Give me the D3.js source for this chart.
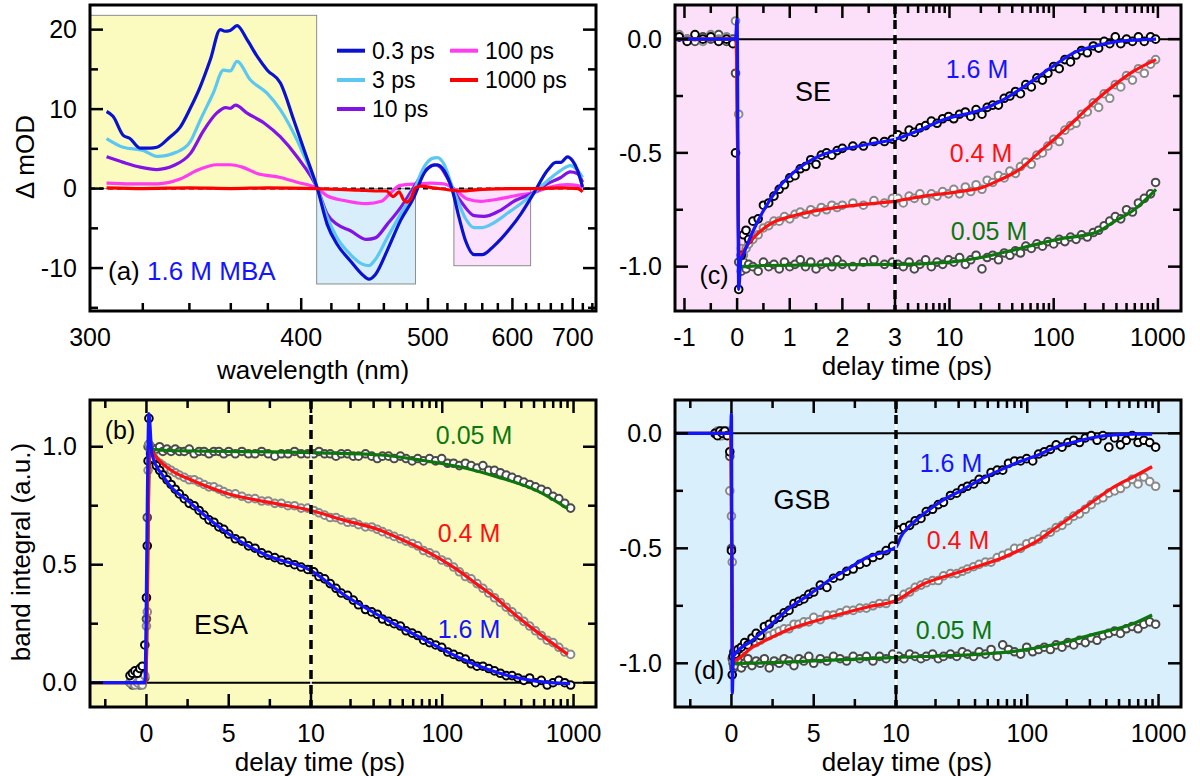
<!DOCTYPE html>
<html lang="en">
<head>
<meta charset="UTF-8">
<title>transient absorption</title>
<style>
  body { margin: 0; background: #fff; }
  svg text { font-family: "Liberation Sans", Arial, Helvetica, sans-serif; fill: #000; }
</style>
</head>
<body>
<svg width="1200" height="776"></svg>
<script src="https://cdnjs.cloudflare.com/ajax/libs/d3/7.8.5/d3.min.js"></script>
<script>
// ---------------- panel (a): spectra, [wavelength nm, dOD mOD] ----------------
var specNames = ["0.3 ps", "3 ps", "10 ps", "100 ps", "1000 ps"];
var spec03 = [[306,9.7],[308.4,9.1],[312.3,6.7],[314.9,6.3],[318.9,5.1],[323,5.1],[325.8,5.2],[331.4,6.5],[335.8,7.7],[340.4,10.1],[345,12.8],[349.8,16.2],[354.7,20],[357,19.8],[359.7,19.9],[363.2,20.5],[368.6,18.7],[374.1,16.6],[379.7,14.9],[387.3,13.3],[395.4,8.6],[403,4.2],[410.5,0],[417.1,-4.5],[424,-7],[433.7,-9.1],[442.6,-10.8],[447.8,-11.4],[453.1,-10.8],[462.8,-7.8],[474.4,-4],[486.5,-1.1],[496.1,1.9],[504.4,2.9],[509.5,3],[516.3,2.3],[525.3,-0.2],[532.6,-3.6],[540.2,-6.6],[550,-8.3],[560.2,-8.3],[575,-7.2],[597.6,-4.9],[612.1,-3.2],[632.5,-0.5],[654.4,2.3],[668.8,3.3],[677.7,3.3],[690.1,4],[699.6,3.5],[709.4,2.3],[719.5,0.2]];
var spec3 = [[306,6.3],[312.3,5.2],[320.2,4.8],[325.8,4.05],[334.4,4.6],[340.4,5.9],[345,8.6],[351.2,12],[356.3,14.9],[359.7,14.8],[363.2,16],[370.2,13.7],[379.5,12],[387.3,9.9],[397.4,6.1],[410.5,0],[417.1,-3.6],[424,-6.2],[433.7,-8.3],[442.6,-9.5],[447.8,-9.7],[453.1,-8.9],[462.8,-6.2],[474.4,-3.2],[486.5,-0.25],[496.1,2.7],[504.4,3.8],[509.5,3.9],[516.3,3.1],[525.3,0.2],[532.6,-1.9],[540.2,-3.8],[550,-4.9],[560.2,-4.9],[575,-4.3],[597.6,-2.8],[612.1,-1.9],[632.5,-0.5],[654.4,1],[677.7,2.3],[695,2.9],[709.4,2.3],[719.5,1.4]];
var spec10 = [[306,4],[312.3,3.3],[318.9,2.7],[325.8,2.4],[333,2.9],[340.4,4.4],[346.6,7.3],[352.9,9.5],[357.5,10.2],[359.7,10.1],[362.4,10.5],[368.5,9.5],[378.2,8.2],[387.3,6.5],[397.4,4],[410.5,0],[417.1,-3.2],[424,-4.5],[433.7,-5.3],[446,-6.4],[453,-6.2],[462.8,-4.5],[474.4,-2.4],[486.5,0.2],[496.1,2.1],[506.5,3],[512.4,2.7],[519.6,1.4],[527,-0.25],[538.6,-2.2],[550,-3.4],[562,-3.5],[582,-2.8],[604,-1.5],[632.5,-0.5],[654,0.6],[677.7,1.4],[695,2.1],[709,1.9],[719.5,0.8]];
var spec100 = [[306,0.7],[315,0.6],[326,0.6],[335.8,1.2],[343.6,2.3],[352.9,3],[359.7,3],[366,2.7],[374,1.9],[387.3,1.4],[397.4,0.8],[410.5,0],[417,-0.9],[429,-1.5],[446,-1.9],[458,-1.6],[466,-0.5],[474,0.4],[490,0.6],[502.7,0.7],[516,0.6],[527,0],[542,-1.3],[558,-1.6],[582,-1.3],[604,-0.9],[632,-0.5],[659,0.2],[690,0.5],[709,0.4],[719.5,0]];
var spec1000 = [[306,0.1],[320,0],[340,0.1],[360,0],[380,0.1],[410,0],[440,-0.2],[455,-0.3],[462,-0.3],[468,-1.0],[473,-0.4],[477,-1.4],[480,-1.7],[484,-1.2],[488,0.1],[493,0.3],[505,0.1],[525,-0.2],[535,-0.3],[560,-0.1],[600,0],[640,0],[680,0.1],[710,0],[719.5,-0.4]];
var specSeries = [spec03, spec3, spec10, spec100, spec1000];
// integration windows: [from nm, to nm, low, high]
var bands = [[300,410,0,21.8],[410,488,-12,0],[527,627,-9.7,0]];

// ---------------- panel (c): SE kinetics ----------------
var tC = [-1.1,-0.95,-0.8,-0.65,-0.5,-0.35,-0.2,-0.08,
  -0.03,0.03,0.08,
  0.12,0.17,0.22,0.3,0.4,0.5,0.6,0.7,0.8,0.9,1.0,1.1,1.2,1.3,1.4,1.5,1.6,1.7,1.8,1.9,2.0,2.2,2.4,2.6,2.8,2.95,
  3.2,3.6,4.1,4.6,5.2,5.9,6.7,7.6,8.6,9.8,11,12.5,14.2,16,18,20.5,23,26,29.5,33.5,38,43,48,54,61,69,78,88,100,113,128,145,164,185,210,240,270,305,345,390,440,500,570,650,740,850,950];
var c16 = [0.01,-0.01,0.02,0.0,0.01,-0.01,0.0,-0.02,
  -0.5,-1.1,-0.95,
  -0.86,-0.84,-0.88,-0.8,-0.79,-0.73,-0.72,-0.69,-0.66,-0.64,-0.61,-0.6,-0.57,-0.56,-0.53,-0.55,-0.51,-0.5,-0.51,-0.49,-0.48,-0.47,-0.47,-0.45,-0.45,-0.44,
  -0.42,-0.43,-0.4,-0.41,-0.39,-0.38,-0.36,-0.37,-0.35,-0.34,-0.35,-0.33,-0.32,-0.34,-0.31,-0.33,-0.3,-0.29,-0.29,-0.26,-0.25,-0.23,-0.24,-0.2,-0.21,-0.17,-0.18,-0.15,-0.12,-0.13,-0.09,-0.1,-0.07,-0.05,-0.06,-0.03,-0.04,-0.01,-0.02,0.01,-0.02,0.0,-0.01,0.01,-0.01,0.01,0.0];
var c04 = [0.02,0.0,0.01,-0.01,0.02,0.0,0.01,-0.01,
  0.08,-0.33,-0.92,
  -0.95,-0.92,-0.9,-0.88,-0.86,-0.83,-0.82,-0.8,-0.8,-0.78,-0.79,-0.77,-0.76,-0.77,-0.75,-0.76,-0.74,-0.75,-0.73,-0.74,-0.73,-0.72,-0.73,-0.71,-0.72,-0.7,
  -0.7,-0.72,-0.69,-0.7,-0.68,-0.71,-0.68,-0.69,-0.67,-0.68,-0.66,-0.68,-0.65,-0.67,-0.64,-0.66,-0.62,-0.63,-0.6,-0.61,-0.58,-0.59,-0.56,-0.54,-0.55,-0.51,-0.5,-0.47,-0.44,-0.45,-0.4,-0.38,-0.37,-0.33,-0.32,-0.28,-0.3,-0.24,-0.26,-0.2,-0.21,-0.16,-0.18,-0.13,-0.15,-0.11,-0.09];
var c005 = [0.01,0.0,-0.01,0.01,0.0,0.02,-0.01,0.0,
  -0.15,-0.98,-1.02,
  -0.98,-1.01,-0.99,-1.0,-1.02,-0.98,-1.0,-0.99,-1.01,-0.98,-1.0,-0.99,-0.97,-1.0,-0.98,-1.01,-0.99,-0.98,-1.0,-0.97,-0.99,-1.0,-0.98,-0.97,-0.99,-0.98,
  -0.99,-1.0,-0.98,-1.01,-0.99,-0.97,-1.0,-0.98,-0.99,-0.97,-0.98,-0.96,-0.99,-0.97,-0.95,-1.01,-0.96,-0.95,-0.97,-0.94,-0.95,-0.93,-0.94,-0.91,-0.92,-0.9,-0.91,-0.89,-0.9,-0.88,-0.89,-0.87,-0.88,-0.86,-0.87,-0.85,-0.84,-0.82,-0.8,-0.78,-0.79,-0.75,-0.76,-0.72,-0.7,-0.68,-0.63];
var fitC16 = [[-1.2,0],[-0.03,0],[0.0,0.09],[0.03,-1.1],[0.07,-0.97],[0.11,-0.95],[0.29,-0.85],[0.51,-0.75],[0.8,-0.65],[1.16,-0.57],[1.6,-0.51],[2.1,-0.48],[2.54,-0.46],[3,-0.44],[4.85,-0.405],[8.74,-0.354],[20.3,-0.31],[30.9,-0.273],[47,-0.222],[71.5,-0.164],[109,-0.105],[166,-0.054],[253,-0.03],[387,-0.012],[588,-0.004],[960,0]];
var fitC04 = [[-1.2,0],[-0.02,0],[0.04,-0.97],[0.1,-0.94],[0.29,-0.88],[0.65,-0.81],[1.02,-0.78],[1.45,-0.756],[2.1,-0.734],[3,-0.712],[5.7,-0.69],[13.3,-0.668],[20.3,-0.653],[30.9,-0.617],[47,-0.573],[71.5,-0.5],[107,-0.43],[166,-0.35],[253,-0.27],[387,-0.2],[590,-0.14],[960,-0.09]];
var fitC005 = [[-1.2,0],[-0.02,0],[0.04,-1.0],[0.5,-0.995],[3,-0.99],[10,-0.98],[20,-0.96],[47,-0.92],[109,-0.88],[253,-0.85],[387,-0.8],[590,-0.75],[960,-0.66]];

// ---------------- panels (b) ESA and (d) GSB ----------------
var tBD = [-1.0,-0.85,-0.7,-0.55,-0.4,-0.25,
  -0.1,0.0,0.05,0.1,0.15,
  0.25,0.4,0.6,0.8,1.0,1.25,1.5,1.75,2.0,2.3,2.6,2.9,3.2,3.5,3.8,4.1,4.4,4.7,5.0,5.4,5.8,6.2,6.6,7.0,7.4,7.8,8.2,8.6,9.0,9.4,9.8,
  10.5,11.5,12.7,14,15.5,17,19,21,23,26,29,32,35,39,43,48,53,59,65,72,80,89,99,110,122,135,150,166,184,204,226,250,277,307,340,377,418,463,513,568,630,698,773,857,950];
var b16 = [0.03,0.04,0.05,0.04,0.06,0.07,
  0.16,0.36,0.58,0.94,1.12,
  0.97,0.95,0.92,0.9,0.88,0.86,0.84,0.82,0.8,0.78,0.76,0.75,0.73,0.71,0.69,0.68,0.66,0.65,0.63,0.61,0.6,0.58,0.57,0.55,0.54,0.53,0.52,0.51,0.5,0.49,0.48,
  0.47,0.45,0.44,0.42,0.4,0.38,0.37,0.35,0.33,0.31,0.3,0.29,0.27,0.26,0.25,0.24,0.22,0.21,0.2,0.18,0.17,0.16,0.15,0.13,0.12,0.11,0.1,0.08,0.07,0.07,0.06,0.05,0.04,0.03,0.03,0.02,0.01,0.02,0.0,0.01,-0.01,0.0,0.01,0.0,-0.01];
var b04 = [0.0,0.01,-0.01,0.0,0.01,-0.01,
  0.03,0.24,0.3,0.9,1.01,
  0.98,0.96,0.94,0.93,0.92,0.91,0.9,0.89,0.88,0.87,0.86,0.86,0.85,0.84,0.83,0.83,0.82,0.81,0.8,0.8,0.79,0.78,0.78,0.77,0.77,0.76,0.76,0.75,0.75,0.74,0.74,
  0.73,0.72,0.71,0.7,0.7,0.69,0.68,0.68,0.67,0.66,0.66,0.65,0.64,0.63,0.62,0.61,0.6,0.59,0.58,0.56,0.55,0.54,0.52,0.51,0.49,0.47,0.45,0.44,0.42,0.4,0.38,0.36,0.34,0.32,0.3,0.28,0.26,0.24,0.22,0.2,0.18,0.17,0.15,0.13,0.12];
var b005 = [0.0,-0.01,0.01,0.0,-0.01,0.0,
  0.02,0.27,0.7,1.0,1.01,
  1.0,0.99,0.99,1.0,0.98,0.99,0.98,0.99,0.98,0.98,0.99,0.97,0.98,0.98,0.97,0.98,0.98,0.97,0.98,0.97,0.98,0.97,0.97,0.98,0.97,0.96,0.97,0.97,0.98,0.97,0.97,
  0.97,0.98,0.97,0.97,0.96,0.97,0.97,0.96,0.96,0.97,0.96,0.95,0.96,0.96,0.95,0.96,0.95,0.94,0.95,0.94,0.95,0.94,0.95,0.93,0.93,0.92,0.93,0.92,0.91,0.92,0.9,0.9,0.89,0.88,0.87,0.86,0.85,0.84,0.83,0.82,0.81,0.79,0.78,0.76,0.74];
var fitB16 = [[-3.43,0],[-0.1,0],[0.15,1.14],[0.33,0.97],[1.06,0.87],[2.7,0.76],[5,0.63],[7.3,0.54],[10,0.475],[17.5,0.376],[34.9,0.277],[68.7,0.19],[135,0.106],[263,0.043],[516,0.007],[942,-0.004]];
var fitB04 = [[-3.43,0],[-0.05,0],[0.2,1.0],[0.4,0.975],[1.5,0.9],[2.7,0.86],[5,0.8],[7.3,0.766],[10,0.73],[17.5,0.69],[34.1,0.645],[47.6,0.61],[92.8,0.53],[129,0.48],[181,0.42],[254,0.36],[355,0.29],[494,0.227],[903,0.12]];
var fitB005 = [[-3.43,0],[-0.05,0],[0.2,0.99],[1,0.985],[10,0.975],[34,0.965],[69,0.943],[135,0.915],[263,0.872],[516,0.816],[903,0.738]];

var d16 = [0.0,-0.01,0.01,0.0,0.01,-0.01,
  -0.08,-0.51,-1.05,-0.97,-0.95,
  -0.96,-0.94,-0.93,-0.91,-0.92,-0.89,-0.87,-0.88,-0.84,-0.83,-0.81,-0.8,-0.78,-0.77,-0.74,-0.73,-0.72,-0.7,-0.69,-0.66,-0.67,-0.63,-0.62,-0.6,-0.59,-0.57,-0.56,-0.54,-0.53,-0.51,-0.49,
  -0.42,-0.41,-0.4,-0.38,-0.37,-0.34,-0.33,-0.31,-0.3,-0.27,-0.26,-0.24,-0.23,-0.22,-0.2,-0.2,-0.17,-0.16,-0.16,-0.13,-0.12,-0.12,-0.11,-0.12,-0.09,-0.08,-0.07,-0.05,-0.06,-0.04,-0.03,-0.04,-0.02,-0.01,-0.03,-0.01,-0.06,-0.02,-0.05,-0.03,-0.01,-0.04,-0.03,-0.04,-0.06];
var d04 = [0.0,0.01,0.0,-0.01,0.0,0.01,
  -0.25,-0.36,-0.56,-0.97,-0.99,
  -0.97,-0.96,-0.95,-0.94,-0.92,-0.91,-0.91,-0.9,-0.88,-0.88,-0.87,-0.86,-0.85,-0.85,-0.83,-0.83,-0.82,-0.82,-0.8,-0.81,-0.79,-0.79,-0.78,-0.77,-0.77,-0.76,-0.76,-0.75,-0.74,-0.74,-0.72,
  -0.72,-0.7,-0.69,-0.67,-0.66,-0.65,-0.64,-0.64,-0.62,-0.61,-0.61,-0.6,-0.59,-0.58,-0.57,-0.56,-0.56,-0.54,-0.53,-0.52,-0.5,-0.5,-0.48,-0.47,-0.46,-0.44,-0.43,-0.41,-0.4,-0.38,-0.36,-0.35,-0.33,-0.31,-0.29,-0.28,-0.26,-0.25,-0.24,-0.22,-0.2,-0.22,-0.19,-0.21,-0.23];
var d005 = [0.0,0.0,-0.01,0.01,0.0,0.0,
  -0.1,-0.5,-0.98,-1.0,-1.02,
  -1.01,-0.99,-1.02,-1.0,-0.98,-1.01,-0.99,-1.0,-0.98,-1.02,-0.99,-1.0,-0.98,-0.99,-1.01,-0.98,-0.99,-0.97,-1.0,-0.98,-0.99,-0.97,-0.98,-0.99,-0.97,-0.98,-0.97,-0.99,-0.97,-0.98,-0.96,
  -0.97,-0.98,-0.96,-0.97,-0.98,-0.97,-0.96,-0.98,-0.97,-0.96,-0.97,-0.95,-0.96,-0.97,-0.95,-0.96,-0.94,-0.97,-0.92,-0.94,-0.95,-0.96,-0.93,-0.95,-0.94,-0.93,-0.94,-0.92,-0.93,-0.91,-0.92,-0.9,-0.91,-0.89,-0.9,-0.88,-0.87,-0.86,-0.87,-0.85,-0.84,-0.85,-0.83,-0.82,-0.83];
var fitD16 = [[-3.43,0],[-0.05,0],[0.0,0.087],[0.05,-1.13],[0.12,-0.97],[1.28,-0.9],[2.43,-0.83],[3.59,-0.756],[4.75,-0.7],[5.9,-0.64],[7.06,-0.59],[8.22,-0.54],[10,-0.494],[10.9,-0.45],[14.2,-0.378],[16.3,-0.35],[22.8,-0.29],[31.8,-0.247],[44.3,-0.2],[62,-0.16],[86.5,-0.124],[121,-0.094],[168,-0.058],[235,-0.036],[328,-0.017],[458,-0.007],[640,-0.003],[893,-0.003]];
var fitD04 = [[-3.43,0],[-0.05,0],[0.08,-0.99],[1.28,-0.93],[2.43,-0.887],[3.59,-0.85],[5.9,-0.8],[8.22,-0.756],[10,-0.727],[16.3,-0.654],[22.8,-0.625],[44.3,-0.574],[62,-0.545],[86.5,-0.509],[121,-0.465],[168,-0.407],[235,-0.349],[328,-0.29],[458,-0.233],[640,-0.19],[893,-0.145]];
var fitD005 = [[-3.43,0],[-0.05,0],[0.08,-1.0],[10,-0.974],[44.3,-0.96],[86.5,-0.945],[168,-0.916],[328,-0.872],[640,-0.828],[893,-0.79]];

var concNames = ["1.6 M", "0.4 M", "0.05 M"];

// ---------------- drawing ----------------
var svg = d3.select("svg");
var BLUE = "#1414ff", RED = "#ff1010", GREEN = "#0e760e";
var TICK_FS = 25, TITLE_FS = 26, NOTE_FS = 25;

function yTicks(g, f, ys, step, majorEvery) {
  var lo = Math.ceil(ys.domain()[0] / step) * step;
  var vals = d3.range(lo, ys.domain()[1] + 1e-9, step);
  vals.forEach(function(v) {
    var major = Math.abs(v / majorEvery - Math.round(v / majorEvery)) < 1e-6;
    var len = major ? 13 : 8;
    var y = ys(v);
    g.append("line").attr("x1", f.x0).attr("x2", f.x0 + len).attr("y1", y).attr("y2", y);
    g.append("line").attr("x1", f.x1).attr("x2", f.x1 - len).attr("y1", y).attr("y2", y);
  });
}

function frameBox(g, f) {
  g.append("rect").attr("x", f.x0).attr("y", f.y0)
    .attr("width", f.x1 - f.x0).attr("height", f.y1 - f.y0)
    .attr("fill", "none").attr("stroke", "#000").attr("stroke-width", 3);
}

function label(g, txt, x, y, size, color, anchor) {
  return g.append("text").attr("x", x).attr("y", y).attr("dy", "0.35em")
    .attr("text-anchor", anchor || "middle")
    .style("font-size", size + "px").style("fill", color || "#000")
    .text(txt);
}

// ---- panel (a) ----
(function() {
  var f = {x0: 90, x1: 596, y0: 5, y1: 311};
  var inv = d3.scaleLinear().domain([1/300, 1/748]).range([f.x0, f.x1]);
  var x = function(l) { return inv(1 / l); };
  var y = d3.scaleLinear().domain([-15.4, 23.1]).range([f.y1, f.y0]);
  var g = svg.append("g");
  svg.append("clipPath").attr("id", "clipA").append("rect")
    .attr("x", f.x0).attr("y", f.y0).attr("width", f.x1 - f.x0).attr("height", f.y1 - f.y0);
  var inner = g.append("g").attr("clip-path", "url(#clipA)");
  var fills = ["#fbfbc0", "#d8effb", "#fbe1fb"];
  bands.forEach(function(b, i) {
    inner.append("rect").attr("x", x(b[0])).attr("y", y(b[3]))
      .attr("width", x(b[1]) - x(b[0])).attr("height", y(b[2]) - y(b[3]))
      .attr("fill", fills[i]).attr("stroke", "#8c8c8c").attr("stroke-width", 1);
  });
  inner.append("line").attr("x1", f.x0).attr("x2", f.x1).attr("y1", y(0)).attr("y2", y(0))
    .attr("stroke", "#000").attr("stroke-width", 2).attr("stroke-dasharray", "5,4");
  var colors = ["#0a12d2", "#5cc8f2", "#8212e6", "#ff3cf0", "#ff0000"];
  var line = d3.line().x(function(d) { return x(d[0]); }).y(function(d) { return y(d[1]); })
    .curve(d3.curveMonotoneX);
  [3, 2, 1, 0, 4].forEach(function(i) {
    inner.append("path").attr("d", line(specSeries[i])).attr("fill", "none")
      .attr("stroke", colors[i]).attr("stroke-width", 3.2).attr("stroke-linejoin", "round");
  });
  frameBox(g, f);
  var tk = g.append("g").attr("stroke", "#000").attr("stroke-width", 2.5);
  yTicks(tk, f, y, 5, 10);
  d3.range(320, 741, 20).forEach(function(l) {
    var len = l % 100 === 0 ? 13 : 8;
    tk.append("line").attr("x1", x(l)).attr("x2", x(l)).attr("y1", f.y1).attr("y2", f.y1 - len);
  });
  [300, 400, 500, 600, 700].forEach(function(l) { label(g, l, x(l), 337, TICK_FS); });
  [20, 10, 0, -10].forEach(function(v) { label(g, v, f.x0 - 13, y(v), TICK_FS, "#000", "end"); });
  label(g, "wavelength (nm)", 313, 370, TITLE_FS);
  label(g, "\u0394 mOD", 0, 0, TITLE_FS).attr("transform", "translate(25,157) rotate(-90)");
  // legend
  var rows = [50.7, 80, 109];
  specNames.forEach(function(n, i) {
    var col = i < 3 ? 0 : 1, r = i < 3 ? i : i - 3;
    var lx = col === 0 ? 337 : 450;
    g.append("line").attr("x1", lx).attr("x2", lx + 28).attr("y1", rows[r]).attr("y2", rows[r])
      .attr("stroke", colors[i]).attr("stroke-width", 4);
    label(g, n, lx + 35, rows[r], 23, "#000", "start");
  });
  var t = g.append("text").attr("x", 108).attr("y", 271).attr("dy", "0.35em").style("font-size", "26px");
  t.append("tspan").text("(a) ");
  t.append("tspan").style("fill", BLUE).text("1.6 M MBA");
})();

// ---- kinetics panels ----
function timePanel(cfg) {
  var f = cfg.frame;
  var x = function(t) { return t <= cfg.brk ? cfg.lin(t) : cfg.log(t); };
  var y = cfg.y;
  var g = svg.append("g");
  svg.append("clipPath").attr("id", "clip" + cfg.id).append("rect")
    .attr("x", f.x0).attr("y", f.y0).attr("width", f.x1 - f.x0).attr("height", f.y1 - f.y0);
  g.append("rect").attr("x", f.x0).attr("y", f.y0).attr("width", f.x1 - f.x0)
    .attr("height", f.y1 - f.y0).attr("fill", cfg.bg);
  var inner = g.append("g").attr("clip-path", "url(#clip" + cfg.id + ")");
  inner.append("line").attr("x1", f.x0).attr("x2", f.x1).attr("y1", y(0)).attr("y2", y(0))
    .attr("stroke", "#000").attr("stroke-width", 2);
  // data circles, lowest concentration first
  cfg.series.slice().reverse().forEach(function(s) {
    inner.append("g").selectAll("circle")
      .data(cfg.t.map(function(t, i) { return [t, s.v[i]]; }))
      .enter().append("circle")
      .attr("cx", function(d) { return x(d[0]); })
      .attr("cy", function(d) { return y(d[1]); })
      .attr("r", 3.8).attr("fill", "#fff")
      .attr("stroke", s.dot).attr("stroke-width", 2);
  });
  var line = d3.line().x(function(d) { return x(d[0]); }).y(function(d) { return y(d[1]); })
    .curve(d3.curveMonotoneX);
  cfg.series.slice().reverse().forEach(function(s) {
    inner.append("path").attr("d", line(s.fit)).attr("fill", "none")
      .attr("stroke", s.color).attr("stroke-width", 3.2).attr("stroke-linejoin", "round");
  });
  // axis break
  inner.append("line").attr("x1", x(cfg.brk)).attr("x2", x(cfg.brk)).attr("y1", f.y0).attr("y2", f.y1)
    .attr("stroke", "#fff").attr("stroke-width", 1.5);
  inner.append("line").attr("x1", x(cfg.brk)).attr("x2", x(cfg.brk)).attr("y1", f.y0).attr("y2", f.y1)
    .attr("stroke", "#000").attr("stroke-width", 3.5).attr("stroke-dasharray", "9,6");
  frameBox(g, f);
  var tk = g.append("g").attr("stroke", "#000").attr("stroke-width", 2.5);
  yTicks(tk, f, y, 0.25, 0.5);
  var xt = [];
  cfg.linTicks.forEach(function(v) { xt.push([v, Math.abs(v / cfg.linMajor - Math.round(v / cfg.linMajor)) < 1e-6]); });
  [1, 10, 100].forEach(function(dec) {
    d3.range(1, 10).forEach(function(k) {
      var v = k * dec;
      if (v > cfg.brk && v < 1000) xt.push([v, k === 1]);
    });
  });
  xt.push([1000, true]);
  xt.forEach(function(d) {
    var px = x(d[0]), len = d[1] ? 13 : 8;
    tk.append("line").attr("x1", px).attr("x2", px).attr("y1", f.y1).attr("y2", f.y1 - len);
    tk.append("line").attr("x1", px).attr("x2", px).attr("y1", f.y0).attr("y2", f.y0 + len);
  });
  cfg.xLabels.forEach(function(v) { label(g, v, x(v), f.y1 + 26, TICK_FS); });
  cfg.yLabels.forEach(function(v) { label(g, v.toFixed(1), f.x0 - 13, y(v), TICK_FS, "#000", "end"); });
  label(g, "delay time (ps)", cfg.titleX, f.y1 + 55, TITLE_FS);
  cfg.notes.forEach(function(n) { label(g, n[0], n[1], n[2], n[4] || NOTE_FS, n[3]); });
  return g;
}

var grayDots = ["#000", "#8a8a8a", "#4a4a4a"];

timePanel({
  id: "C", bg: "#fce0fa", frame: {x0: 675, x1: 1181, y0: 5, y1: 311}, brk: 3,
  lin: d3.scaleLinear().domain([-1.18, 3]).range([675, 895]),
  log: d3.scaleLog().domain([3, 1666]).range([895, 1181]),
  y: d3.scaleLinear().domain([-1.195, 0.15]).range([311, 5]),
  t: tC,
  series: [
    {v: c16, fit: fitC16, dot: grayDots[0], color: BLUE},
    {v: c04, fit: fitC04, dot: grayDots[1], color: RED},
    {v: c005, fit: fitC005, dot: grayDots[2], color: GREEN}
  ],
  linTicks: d3.range(-1, 3.01, 0.5), linMajor: 1,
  xLabels: [-1, 0, 1, 2, 3, 10, 100, 1000], yLabels: [0, -0.5, -1.0],
  titleX: 907,
  notes: [["SE", 813, 92, "#000", 27], [concNames[0], 977, 69, BLUE], [concNames[1], 981, 153, RED],
          [concNames[2], 989, 231, GREEN], ["(c)", 714, 275, "#000"]]
});

var gB = timePanel({
  id: "B", bg: "#fbfbc0", frame: {x0: 90, x1: 596, y0: 400, y1: 707}, brk: 10,
  lin: d3.scaleLinear().domain([-3.43, 10]).range([90, 311]),
  log: d3.scaleLog().domain([10, 1483]).range([311, 596]),
  y: d3.scaleLinear().domain([-0.103, 1.198]).range([707, 400]),
  t: tBD,
  series: [
    {v: b16, fit: fitB16, dot: grayDots[0], color: BLUE},
    {v: b04, fit: fitB04, dot: grayDots[1], color: RED},
    {v: b005, fit: fitB005, dot: grayDots[2], color: GREEN}
  ],
  linTicks: d3.range(-2.5, 10.01, 2.5), linMajor: 5,
  xLabels: [0, 5, 10, 100, 1000], yLabels: [1.0, 0.5, 0.0],
  titleX: 320,
  notes: [["(b)", 120, 430, "#000"], [concNames[2], 474, 435, GREEN], [concNames[1], 469, 533, RED],
          [concNames[0], 469, 629, BLUE], ["ESA", 221, 625, "#000", 27]]
});
label(gB, "band integral (a.u.)", 0, 0, TITLE_FS).attr("transform", "translate(21,552) rotate(-90)");

timePanel({
  id: "D", bg: "#d9effb", frame: {x0: 675, x1: 1181, y0: 400, y1: 707}, brk: 10,
  lin: d3.scaleLinear().domain([-3.43, 10]).range([675, 896]),
  log: d3.scaleLog().domain([10, 1483]).range([896, 1181]),
  y: d3.scaleLinear().domain([-1.19, 0.145]).range([707, 400]),
  t: tBD,
  series: [
    {v: d16, fit: fitD16, dot: grayDots[0], color: BLUE},
    {v: d04, fit: fitD04, dot: grayDots[1], color: RED},
    {v: d005, fit: fitD005, dot: grayDots[2], color: GREEN}
  ],
  linTicks: d3.range(-2.5, 10.01, 2.5), linMajor: 5,
  xLabels: [0, 5, 10, 100, 1000], yLabels: [0, -0.5, -1.0],
  titleX: 907,
  notes: [["GSB", 802, 500, "#000", 27], [concNames[0], 951, 463, BLUE], [concNames[1], 958, 540, RED],
          [concNames[2], 954, 630, GREEN], ["(d)", 709, 670, "#000"]]
});
</script>
</body>
</html>
